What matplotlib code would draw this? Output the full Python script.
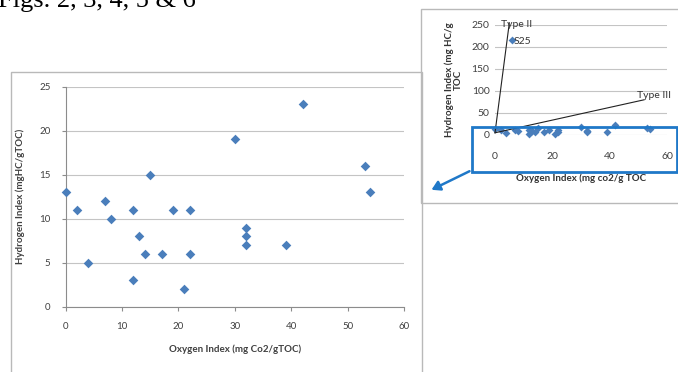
"""
Rock-Eval cross plot: hydrogen index vs oxygen index, with the full-scale
kerogen-type inset in the top right corner.
"""
import matplotlib
matplotlib.use("Agg")
import matplotlib.pyplot as plt
from matplotlib.patches import Rectangle, FancyArrowPatch

# ── Data ───────────────────────────────────────────────────────────────────
OXYGEN_INDEX = [0, 2, 4, 7, 8, 12, 12, 13, 14, 15, 17, 19, 21, 22, 22,
                30, 32, 32, 32, 39, 42, 53, 54]
HYDROGEN_INDEX = [13, 11, 5, 12, 10, 11, 3, 8, 6, 15, 6, 11, 2, 11, 6,
                  19, 9, 8, 7, 7, 23, 16, 13]

S25_OI = [6]
S25_HI = [217]

MAIN_XTICKS = [0, 10, 20, 30, 40, 50, 60]
MAIN_YTICKS = [0, 5, 10, 15, 20, 25]
INSET_XTICKS = [0, 20, 40, 60]
INSET_YTICKS = [0, 50, 100, 150, 200, 250]

TYPE_II_LINE = ([0, 5], [5, 255])
TYPE_III_LINE = ([0, 52], [5, 80])

# ── Design tokens ──────────────────────────────────────────────────────────
BLUE = "#4a7ebb"
FRAME_BLUE = "#1f78c8"
GRID = "#c4c4c4"
FRAME = "#b9b9b9"
TEXT = "#404040"
FONT = "Lato"

W, H = 678, 372
fig = plt.figure(figsize=(W / 100, H / 100), dpi=100)
fig.patch.set_facecolor("white")
plt.rcParams["font.family"] = [FONT, "DejaVu Sans"]


def px_box(x0, y0, x1, y1):
    """pixel box (top-left origin) -> figure-fraction [l, b, w, h]"""
    return [x0 / W, 1 - y1 / H, (x1 - x0) / W, (y1 - y0) / H]


def style_axes(ax, fs):
    for side in ("top", "right"):
        ax.spines[side].set_visible(False)
    for side in ("left", "bottom"):
        ax.spines[side].set_color("#8c8c8c")
        ax.spines[side].set_linewidth(0.8)
    ax.yaxis.grid(True, color=GRID, linewidth=0.8)
    ax.set_axisbelow(True)
    ax.tick_params(colors="#8c8c8c", labelcolor=TEXT, labelsize=fs,
                   length=3, width=0.8)


# ── Frames ─────────────────────────────────────────────────────────────────
fig.add_artist(Rectangle((11 / W, -0.05), (422 - 11) / W, 1.05 - 72 / H,
                         transform=fig.transFigure, fill=False,
                         edgecolor=FRAME, linewidth=1))
fig.add_artist(Rectangle((421 / W, 1 - 203 / H), (W + 5 - 421) / W, (203 - 9) / H,
                         transform=fig.transFigure, fill=False,
                         edgecolor=FRAME, linewidth=1))

# ── Main chart ─────────────────────────────────────────────────────────────
ax = fig.add_axes(px_box(65.7, 86.7, 404, 306.7))
ax.scatter(OXYGEN_INDEX, HYDROGEN_INDEX, marker="D", s=24, color=BLUE,
           linewidths=0, zorder=3, clip_on=False)
ax.set_xlim(0, 60)
ax.set_ylim(0, 25)
ax.set_xticks(MAIN_XTICKS)
ax.set_yticks(MAIN_YTICKS)
style_axes(ax, 7)
ax.tick_params(axis="x", pad=8)
ax.tick_params(axis="y", pad=8)
ax.set_xlabel("Oxygen Index (mg Co2/gTOC)", fontsize=7, fontweight="bold",
              color=TEXT, labelpad=10)
ax.set_ylabel("Hydrogen Index (mgHC/gTOC)", fontsize=7, fontweight="bold",
              color=TEXT, labelpad=10)

# ── Inset ──────────────────────────────────────────────────────────────────
ins = fig.add_axes(px_box(495, 25, 667, 135))
ins.scatter(OXYGEN_INDEX, HYDROGEN_INDEX, marker="D", s=16, color=BLUE,
            linewidths=0, zorder=3, clip_on=False)
ins.scatter(S25_OI, S25_HI, marker="D", s=16, color=BLUE, linewidths=0,
            zorder=3)
ins.plot(*TYPE_II_LINE, color="#222222", linewidth=0.8, clip_on=False, zorder=4)
ins.plot(*TYPE_III_LINE, color="#222222", linewidth=0.8, clip_on=False, zorder=4)
ins.text(2, 252, "Type II", fontsize=7.5, color="#333333", va="center")
ins.text(6.4, 212, "S25", fontsize=7.5, color="#333333", va="center")
ins.text(49.5, 90, "Type III", fontsize=7.5, color="#333333", va="center")
ins.set_xlim(0, 60)
ins.set_ylim(0, 250)
ins.set_xticks(INSET_XTICKS)
ins.set_yticks(INSET_YTICKS)
style_axes(ins, 7.5)
ins.spines["left"].set_visible(False)
ins.spines["bottom"].set_visible(False)
ins.tick_params(axis="x", length=0, pad=12)
ins.tick_params(axis="y", length=0, pad=4)
ins.set_xlabel("Oxygen Index (mg co2/g TOC", fontsize=7, fontweight="bold",
               color="#333333", labelpad=9)
ins.set_ylabel("Hydrogen Index (mg HC/g\nTOC", fontsize=7, fontweight="bold",
               color="#333333", labelpad=6, linespacing=1.1)

# ── Zoom box and arrow ─────────────────────────────────────────────────────
fig.add_artist(Rectangle((472 / W, 1 - 172 / H), (677 - 472) / W, (172 - 127) / H,
                         transform=fig.transFigure, fill=False,
                         edgecolor=FRAME_BLUE, linewidth=2))
fig.add_artist(FancyArrowPatch((472 / W, 1 - 170 / H), (429 / W, 1 - 191 / H),
                               transform=fig.transFigure,
                               arrowstyle="-|>,head_length=5,head_width=3",
                               color=FRAME_BLUE, linewidth=1.8))

# ── Clipped caption at the top (cut off in the source page too) ────────────
fig.text(-2 / W, 1 - 7 / H, "Figs. 2, 3, 4, 5 & 6", fontsize=19,
         family="Liberation Serif", color="black", va="baseline", ha="left")

fig.savefig("out.png", dpi=100, facecolor="white")
